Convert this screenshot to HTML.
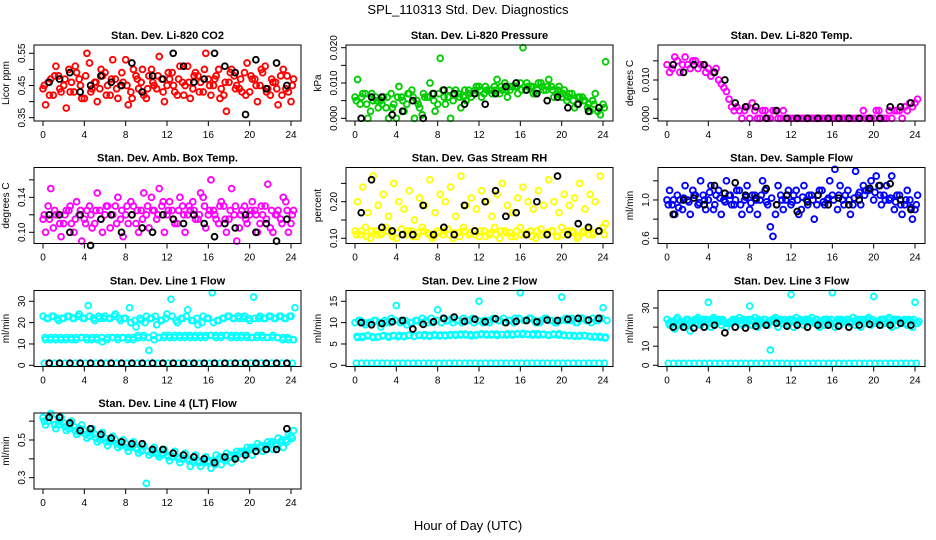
<!DOCTYPE html>
<html><head><meta charset="utf-8"><style>
html,body{margin:0;padding:0;background:#fff;}
svg{display:block;font-family:"Liberation Sans",Arial,sans-serif;}
</style></head><body>
<svg id="chart" width="936" height="540" viewBox="0 0 936 540" xmlns="http://www.w3.org/2000/svg">
<text x="468" y="14" text-anchor="middle" font-size="13">SPL_110313  Std. Dev. Diagnostics</text>
<text x="468" y="530" text-anchor="middle" font-size="13">Hour of Day (UTC)</text>
</svg>
<script>
const hoursX = [0,4,8,12,16,20,24];
// Li-820 CO2
const co2A=[0.44,0.46,0.42,0.48,0.45,0.50,0.43,0.47,0.41,0.52,0.46,0.44,0.49,0.42,0.47,0.45,0.53,0.43,0.48,0.46,0.41,0.50,0.44,0.47,0.45,0.49,0.42,0.46,0.51,0.44,0.48,0.43,0.47,0.45,0.50,0.42,0.46,0.48,0.44,0.49,0.43,0.47,0.45,0.51,0.42,0.46,0.48,0.44,0.40];
const co2B=[0.39,0.47,0.51,0.43,0.38,0.46,0.49,0.41,0.55,0.44,0.40,0.48,0.45,0.53,0.41,0.46,0.39,0.50,0.44,0.42,0.48,0.45,0.54,0.40,0.47,0.43,0.51,0.45,0.41,0.49,0.46,0.55,0.42,0.48,0.44,0.37,0.50,0.45,0.43,0.52,0.47,0.40,0.49,0.44,0.46,0.39,0.50,0.43,0.47];
const co2C=[0.45,0.42,0.48,0.44,0.47,0.43,0.51,0.45,0.48,0.43,0.46,0.50,0.42,0.47,0.44,0.49,0.45,0.41,0.47,0.50,0.44,0.46,0.48,0.43,0.49,0.45,0.47,0.42,0.46,0.48,0.43,0.50,0.45,0.47,0.41,0.46,0.49,0.44,0.47,0.42,0.48,0.45,0.50,0.43,0.47,0.44,0.42,0.48,0.45];
const co2K=[0.46,0.47,0.49,0.43,0.45,0.48,0.46,0.45,0.52,0.43,0.48,0.47,0.55,0.51,0.46,0.47,0.55,0.51,0.49,0.36,0.53,0.44,0.52,0.45];
// Pressure
const prA=[0.006,0.004,0.007,0.002,0.006,0.005,0.003,0.007,0.000,0.006,0.004,0.008,0.005,0.001,0.006,0.007,0.004,0.008,0.006,0.005,0.007,0.006,0.008,0.007,0.009,0.007,0.008,0.009,0.007,0.010,0.008,0.009,0.010,0.008,0.009,0.007,0.010,0.008,0.009,0.007,0.006,0.005,0.007,0.004,0.006,0.003,0.005,0.002,0.004];
const prB=[0.011,0.007,0.000,0.005,0.003,0.006,0.000,0.004,0.009,0.002,0.007,0.000,0.003,0.006,0.010,0.002,0.017,0.004,0.000,0.008,0.003,0.005,0.006,0.009,0.006,0.008,0.007,0.011,0.008,0.006,0.009,0.007,0.020,0.009,0.007,0.010,0.008,0.011,0.006,0.009,0.008,0.007,0.003,0.006,0.005,0.002,0.007,0.001,0.016];
const prC=[0.005,0.006,0.004,0.007,0.005,0.004,0.006,0.003,0.006,0.005,0.007,0.006,0.004,0.007,0.006,0.005,0.007,0.006,0.008,0.007,0.006,0.008,0.007,0.008,0.008,0.009,0.008,0.008,0.009,0.008,0.009,0.009,0.008,0.010,0.009,0.008,0.009,0.009,0.008,0.008,0.007,0.006,0.005,0.006,0.005,0.004,0.004,0.003,0.003];
const prK=[0.000,0.006,0.006,0.001,0.002,0.005,0.000,0.007,0.008,0.007,0.004,0.007,0.004,0.007,0.009,0.010,0.008,0.007,0.005,0.006,0.003,0.004,0.002,0.003];
// Li-820 temp
const ltA=[0.014,0.013,0.015,0.014,0.014,0.015,0.013,0.014,0.013,0.012,0.010,0.008,0.005,0.002,0.002,0.002,0.000,0.002,0.000,0.002,0.000,0.002,0.000,0.000,0.000,0.000,0.000,0.000,0.000,0.000,0.000,0.000,0.000,0.000,0.000,0.000,0.000,0.000,0.002,0.000,0.000,0.002,0.000,0.002,0.002,0.002,0.003,0.004,0.004];
const ltB=[0.012,0.016,0.012,0.016,0.013,0.015,0.014,0.012,0.011,0.013,0.009,0.007,0.003,0.003,0.000,0.003,0.004,0.000,0.002,0.000,0.002,0.000,0.002,0.000,0.000,0.000,0.000,0.000,0.000,0.000,0.000,0.000,0.000,0.000,0.000,0.000,0.000,0.000,0.000,0.000,0.002,0.000,0.000,0.000,0.002,0.000,0.002,0.003,0.005];
const ltK=[0.014,0.012,0.014,0.014,0.012,0.010,0.004,0.003,0.003,0.000,0.002,0.000,0.000,0.000,0.000,0.000,0.000,0.000,0.000,0.000,0.000,0.003,0.003,0.004];
// Amb box temp
const abA=[0.115,0.13,0.105,0.12,0.11,0.125,0.10,0.12,0.115,0.13,0.11,0.125,0.12,0.105,0.13,0.115,0.12,0.135,0.11,0.125,0.12,0.14,0.115,0.13,0.12,0.125,0.11,0.13,0.12,0.135,0.115,0.14,0.12,0.125,0.11,0.13,0.115,0.12,0.105,0.13,0.12,0.125,0.11,0.13,0.105,0.12,0.115,0.135,0.11];
const abB=[0.10,0.15,0.12,0.095,0.125,0.11,0.135,0.09,0.125,0.105,0.145,0.10,0.13,0.12,0.14,0.095,0.11,0.13,0.10,0.145,0.105,0.125,0.15,0.10,0.135,0.11,0.14,0.10,0.125,0.115,0.145,0.105,0.16,0.115,0.135,0.10,0.15,0.09,0.125,0.11,0.135,0.10,0.12,0.155,0.10,0.125,0.14,0.10,0.125];
const abC=[0.12,0.115,0.125,0.11,0.12,0.13,0.115,0.125,0.11,0.12,0.125,0.115,0.13,0.12,0.11,0.125,0.13,0.12,0.125,0.115,0.13,0.125,0.12,0.135,0.125,0.115,0.125,0.12,0.13,0.125,0.12,0.13,0.125,0.12,0.13,0.115,0.125,0.13,0.12,0.115,0.125,0.12,0.13,0.115,0.125,0.12,0.11,0.125,0.12];
const abK=[0.12,0.12,0.10,0.12,0.085,0.115,0.12,0.10,0.12,0.105,0.10,0.12,0.115,0.11,0.12,0.11,0.095,0.11,0.105,0.12,0.10,0.11,0.09,0.115];
// Gas stream RH
const rhA=[0.12,0.11,0.13,0.10,0.12,0.11,0.13,0.115,0.10,0.125,0.11,0.12,0.105,0.13,0.115,0.10,0.12,0.11,0.125,0.10,0.115,0.13,0.11,0.12,0.105,0.12,0.11,0.13,0.10,0.12,0.115,0.105,0.13,0.11,0.12,0.10,0.125,0.11,0.12,0.105,0.13,0.11,0.12,0.10,0.115,0.125,0.11,0.12,0.13];
const rhB=[0.20,0.24,0.17,0.27,0.19,0.22,0.16,0.25,0.20,0.18,0.23,0.15,0.21,0.19,0.26,0.17,0.22,0.20,0.24,0.16,0.27,0.19,0.21,0.18,0.23,0.20,0.16,0.22,0.25,0.19,0.17,0.21,0.24,0.20,0.18,0.23,0.19,0.26,0.20,0.17,0.22,0.19,0.21,0.25,0.18,0.22,0.20,0.27,0.14];
const rhC=[0.11,0.12,0.105,0.12,0.11,0.115,0.12,0.105,0.115,0.11,0.12,0.105,0.115,0.12,0.11,0.105,0.115,0.12,0.11,0.115,0.105,0.12,0.115,0.11,0.12,0.105,0.115,0.11,0.12,0.115,0.105,0.12,0.11,0.115,0.105,0.12,0.11,0.115,0.12,0.105,0.11,0.12,0.115,0.105,0.12,0.11,0.115,0.12,0.11];
const rhK=[0.17,0.26,0.13,0.12,0.11,0.11,0.19,0.11,0.13,0.11,0.19,0.12,0.20,0.23,0.16,0.17,0.11,0.20,0.11,0.27,0.11,0.14,0.13,0.12];
// Sample flow
const sfA=[1.0,0.95,1.05,0.9,1.0,1.1,0.95,1.05,1.0,0.9,1.1,1.0,1.05,0.95,1.1,1.0,0.9,1.05,1.0,1.1,0.72,0.85,1.05,1.0,0.95,1.1,0.9,1.0,1.05,0.95,1.1,1.0,1.05,0.9,1.0,1.1,0.95,1.05,1.15,1.1,1.0,1.15,1.05,1.0,0.9,1.05,0.95,1.0,0.9];
const sfB=[1.1,0.85,1.0,1.15,0.85,1.05,1.2,0.9,1.15,1.05,0.85,1.2,0.95,1.1,0.85,1.15,1.05,0.85,1.2,0.95,0.62,1.15,0.9,1.1,1.05,0.85,1.15,1.05,0.8,1.1,0.95,1.2,1.32,1.15,1.05,0.85,1.3,0.95,1.1,1.2,1.25,0.95,1.15,1.25,1.05,0.85,1.1,0.8,1.05];
const sfC=[0.95,1.0,0.92,1.02,0.98,1.05,0.97,1.0,1.08,0.95,1.02,0.98,1.05,1.0,0.95,1.03,0.97,1.0,1.05,0.98,1.02,0.95,1.0,1.05,0.98,1.0,1.03,0.95,1.0,1.05,0.98,1.02,1.0,1.05,0.95,1.0,1.02,1.08,1.05,1.12,1.08,1.05,1.0,1.02,0.98,0.95,1.0,0.92,0.95];
const sfK=[0.85,1.0,1.02,0.95,1.15,1.07,1.18,1.05,1.02,1.12,0.95,1.05,0.88,0.98,1.05,0.95,1.02,0.95,1.0,1.12,1.15,1.17,1.0,0.9];
// Line 1 flow
const l1A=[23,22,23,21,22,23,22,24,22,23,21,22,23,22,24,21,22,20,18,21,23,22,19,21,24,23,20,22,26,21,19,23,22,20,21,22,23,22,22,23,21,22,23,22,23,22,23,22,23];
const l1B=[12,13,12,12,13,12,13,13,12,13,12,11,13,13,12,13,13,12,13,14,7,12,13,14,13,14,13,14,13,14,13,14,14,13,14,14,14,13,14,13,13,14,13,13,14,13,13,12,12];
const l1C=[1,1,1,1,1,1,1,1,1,1,1,1,1,1,1,1,1,1,1,1,1,1,1,1,1,1,1,1,1,1,1,1,1,1,1,1,1,1,1,1,1,1,1,1,1,1,1,1,1];
const l1D=[22,23,22,22,23,22,23,22,28,22,23,22,22,23,22,22,27,21,22,20,22,23,21,22,31,21,22,23,21,22,20,22,34,21,22,23,22,23,22,22,32,22,22,23,22,23,22,23,27];
const l1E=[13,12,13,13,12,13,12,13,13,12,13,13,12,13,13,13,12,13,14,13,13,14,13,13,14,13,14,13,14,13,14,13,14,14,13,14,13,14,13,14,13,13,14,13,13,13,12,13,12];
const l1K=[1,1,1,1,1,1,1,1,1,1,1,1,1,1,1,1,1,1,1,1,1,1,1,1];
// Line 2 flow
const l2A=[10,10.5,9.5,10,10.5,9,10,11,14,10.5,9.5,10,10.5,11,10,10,13,11,10.5,10,10.5,11,10.5,10,15,10.5,10,11,10.5,10,10.5,11,17,10.5,11,10,10.5,11,10.5,10,16,10.5,11,10,11,10.5,11,10.5,13.5];
const l2B=[6.5,6.8,7,6.5,6.7,7,6.6,6.9,7,6.7,7.1,6.8,7,7.2,6.8,7,7.1,6.9,7.2,7,7.3,7.1,6.9,7.2,7.4,7.1,7.3,7,7.2,7.4,7.1,7.3,7.5,7.2,7.4,7.1,7.3,7,7.2,7.4,7.1,7,6.8,7,6.9,6.7,6.8,6.5,6.6];
const l2C=[0.5,0.5,0.5,0.5,0.5,0.5,0.5,0.5,0.5,0.5,0.5,0.5,0.5,0.5,0.5,0.5,0.5,0.5,0.5,0.5,0.5,0.5,0.5,0.5,0.5,0.5,0.5,0.5,0.5,0.5,0.5,0.5,0.5,0.5,0.5,0.5,0.5,0.5,0.5,0.5,0.5,0.5,0.5,0.5,0.5,0.5,0.5,0.5,0.5];
const l2D=[10.5,10,10,10.5,10,10.5,10,10.5,10,10.5,10,10.5,10,10.5,11,10.5,10,10.5,11,10.5,10,10.5,11,10.5,10,10.5,11,10.5,11,10.5,10,11,10.5,11,10.5,10,11,10.5,10,10.5,11,10.5,10,11,10.5,10,10.5,11,10.5];
const l2E=[6.8,6.5,6.9,6.7,6.6,6.9,6.8,7,6.7,6.9,7,6.8,7.1,6.9,7,7.2,6.9,7.1,7,7.2,7.1,7.3,7.2,7,7.2,7.3,7.1,7.3,7.2,7.1,7.3,7.4,7.2,7.3,7.1,7.4,7.2,7.1,7.3,7.1,7,6.9,7,6.8,7,6.8,6.6,6.8,6.4];
const l2K=[10,9.5,9.8,10.2,10.5,8.5,9.6,10.2,11,11.3,10.3,10.8,10.2,10.9,10,10.3,10.5,10.2,10.6,10.5,10.8,11,10.6,11];
// Line 3 flow
const l3A=[24,23,25,22,24,23,25,24,33,25,24,23,22,24,25,23,31,25,23,24,8,25,24,23,37,25,23,24,25,24,23,24,38,24,23,24,25,23,24,25,36,23,24,25,24,23,24,23,33];
const l3B=[21,19,22,20,18,22,21,23,20,22,21,20,22,23,21,22,21,20,22,21,23,20,22,21,20,22,21,23,22,20,21,22,20,21,23,22,21,20,22,21,23,21,22,20,21,22,21,20,22];
const l3C=[1,1,1,1,1,1,1,1,1,1,1,1,1,1,1,1,1,1,1,1,1,1,1,1,1,1,1,1,1,1,1,1,1,1,1,1,1,1,1,1,1,1,1,1,1,1,1,1,1];
const l3D=[23,24,23,24,22,24,23,24,24,23,24,22,24,23,24,24,23,24,24,23,24,23,24,24,23,24,24,23,24,23,24,24,23,24,24,23,24,23,24,24,23,24,24,23,24,23,24,24,23];
const l3E=[22,23,21,23,22,24,22,23,22,24,23,22,23,24,22,23,24,22,23,22,24,23,22,23,24,22,23,24,23,22,24,23,22,24,23,22,23,24,22,23,22,24,23,22,24,23,22,23,22];
const l3K=[20,20,19.5,20,21,17,20,19.5,20.5,21,22,20.5,21,20,21,21,20.5,20,21,21.5,21,21,22,21];
// Line 4 flow
const l4A=[0.62,0.60,0.61,0.58,0.59,0.56,0.57,0.54,0.55,0.52,0.53,0.50,0.51,0.49,0.50,0.47,0.48,0.46,0.46,0.44,0.27,0.43,0.43,0.42,0.42,0.41,0.41,0.40,0.40,0.39,0.39,0.39,0.38,0.39,0.40,0.40,0.41,0.42,0.43,0.44,0.45,0.46,0.46,0.47,0.48,0.48,0.49,0.50,0.52];
const l4B=[0.58,0.64,0.56,0.62,0.55,0.60,0.53,0.58,0.51,0.56,0.49,0.54,0.47,0.52,0.46,0.50,0.44,0.49,0.43,0.47,0.42,0.46,0.41,0.45,0.39,0.44,0.38,0.43,0.36,0.42,0.36,0.41,0.35,0.42,0.37,0.43,0.38,0.44,0.40,0.46,0.42,0.48,0.44,0.49,0.45,0.51,0.46,0.53,0.55];
const l4C=[0.60,0.62,0.58,0.60,0.57,0.58,0.55,0.56,0.53,0.54,0.51,0.52,0.49,0.50,0.48,0.48,0.46,0.47,0.45,0.45,0.44,0.44,0.42,0.43,0.41,0.41,0.40,0.40,0.39,0.38,0.38,0.38,0.39,0.37,0.41,0.39,0.42,0.41,0.44,0.43,0.46,0.44,0.47,0.45,0.49,0.47,0.50,0.49,0.51];
const l4K=[0.62,0.62,0.59,0.55,0.56,0.53,0.51,0.49,0.48,0.48,0.45,0.45,0.43,0.42,0.41,0.40,0.38,0.41,0.40,0.42,0.44,0.45,0.45,0.56];

const panels=[
 {name:'co2',title:'Stan. Dev. Li-820 CO2',ylab:'Licor ppm',col:0,row:0,dom:[0.3398,0.5758],ticks:[0.35,0.40,0.45,0.50,0.55],labels:['0.35','','0.45','','0.55'],color:'#ff0000',series:[co2A,co2B,co2C],black:co2K},
 {name:'pressure',title:'Stan. Dev. Li-820 Pressure',ylab:'kPa',col:1,row:0,dom:[-0.00076,0.02076],ticks:[0,0.005,0.010,0.015,0.020],labels:['0.000','','0.010','','0.020'],color:'#00cd00',series:[prA,prB,prC],black:prK},
 {name:'li820-temp',title:'Stan. Dev. Li-820 Temp.',ylab:'degrees C',col:2,row:0,dom:[-0.0007,0.01914],ticks:[0,0.005,0.010,0.015],labels:['0.000','','0.010',''],color:'#ff00ff',series:[ltA,ltB],black:ltK},
 {name:'amb-box-temp',title:'Stan. Dev. Amb. Box Temp.',ylab:'degrees C',col:0,row:1,dom:[0.0872,0.1741],ticks:[0.10,0.12,0.14,0.16],labels:['0.10','','0.14',''],color:'#ff00ff',series:[abA,abB,abC],black:abK},
 {name:'gas-stream-rh',title:'Stan. Dev. Gas Stream RH',ylab:'percent',col:1,row:1,dom:[0.0858,0.2934],ticks:[0.10,0.15,0.20,0.25],labels:['0.10','','0.20',''],color:'#ffff00',series:[rhA,rhB,rhC],black:rhK},
 {name:'sample-flow',title:'Stan. Dev. Sample Flow',ylab:'ml/min',col:2,row:1,dom:[0.5457,1.339],ticks:[0.6,0.8,1.0,1.2],labels:['0.6','','1.0',''],color:'#0000ff',series:[sfA,sfB,sfC],black:sfK},
 {name:'line1-flow',title:'Stan. Dev. Line 1 Flow',ylab:'ml/min',col:0,row:2,dom:[-0.56,35.06],ticks:[0,10,20,30],labels:['0','10','20','30'],color:'#00ffff',series:[l1A,l1B,l1C,l1D,l1E],black:l1K},
 {name:'line2-flow',title:'Stan. Dev. Line 2 Flow',ylab:'ml/min',col:1,row:2,dom:[-0.28,17.53],ticks:[0,5,10,15],labels:['0','5','10','15'],color:'#00ffff',series:[l2A,l2B,l2C,l2D,l2E],black:l2K},
 {name:'line3-flow',title:'Stan. Dev. Line 3 Flow',ylab:'ml/min',col:2,row:2,dom:[-0.63,39.16],ticks:[0,10,20,30],labels:['0','10','','30'],color:'#00ffff',series:[l3A,l3B,l3C,l3D,l3E],black:l3K},
 {name:'line4-flow',title:'Stan. Dev. Line 4 (LT) Flow',ylab:'ml/min',col:0,row:3,dom:[0.24,0.6432],ticks:[0.3,0.4,0.5,0.6],labels:['0.3','','0.5',''],color:'#00ffff',series:[l4A,l4B,l4C],black:l4K}
];
const seriesOffsets=[0,0.25,0.125,0.375,0.19];
const NS='http://www.w3.org/2000/svg';
const svg=document.getElementById('chart');
function mk(tag,attrs,parent){const e=document.createElementNS(NS,tag);for(const k in attrs)e.setAttribute(k,attrs[k]);(parent||svg).appendChild(e);return e;}
const rowTop=[45,167.5,290.5,413];
panels.forEach(p=>{
  const L=34+p.col*312, R=301+p.col*312, T=rowTop[p.row], B=T+76;
  const xs=h=>43+p.col*312+h*(248/24);
  const ys=v=>B-(v-p.dom[0])/(p.dom[1]-p.dom[0])*(B-T);
  const g=mk('g',{});
  
  
  const t=mk('text',{x:(L+R)/2,y:T-6,'text-anchor':'middle','font-size':'11','font-weight':'bold'},g);
  t.textContent=p.title;
  
  
  const yl=mk('text',{x:0,y:0,transform:`translate(${L-25},${(T+B)/2}) rotate(-90)`,'text-anchor':'middle','font-size':'10'},g);
  yl.textContent=p.ylab;
  
  
  p.series.forEach((s,si)=>{
    s.forEach((v,i)=>{
      const c=mk('circle',{cx:xs(i*0.5+seriesOffsets[si]),cy:ys(v),r:2.9,fill:'none',stroke:p.color,'stroke-width':1.9},g);
      
      
    });
  });
  p.black.forEach((v,i)=>{
    const c=mk('circle',{cx:xs(i+0.6),cy:ys(v),r:2.9,fill:'none',stroke:'#000','stroke-width':1.9},g);
    
    
  });
  const box=mk('rect',{x:L,y:T,width:R-L,height:B-T,fill:'none',stroke:'#000','stroke-width':1},g);
  
  
  mk('line',{x1:xs(0),x2:xs(24),y1:B,y2:B,stroke:'#000'},g);
  hoursX.forEach(h=>{
    mk('line',{x1:xs(h),x2:xs(h),y1:B,y2:B+5,stroke:'#000'},g);
    const tl=mk('text',{x:xs(h),y:B+17,'text-anchor':'middle','font-size':'10'},g);
    tl.textContent=h;
    
    
  });
  p.ticks.forEach((v,i)=>{
    mk('line',{x1:L,x2:L-5,y1:ys(v),y2:ys(v),stroke:'#000'},g);
    if(p.labels[i]){
      const tl=mk('text',{x:0,y:0,transform:`translate(${L-9},${ys(v)}) rotate(-90)`,'text-anchor':'middle','font-size':'10'},g);
      tl.textContent=p.labels[i];
      
      
    }
  });
});
</script>
</body></html>
